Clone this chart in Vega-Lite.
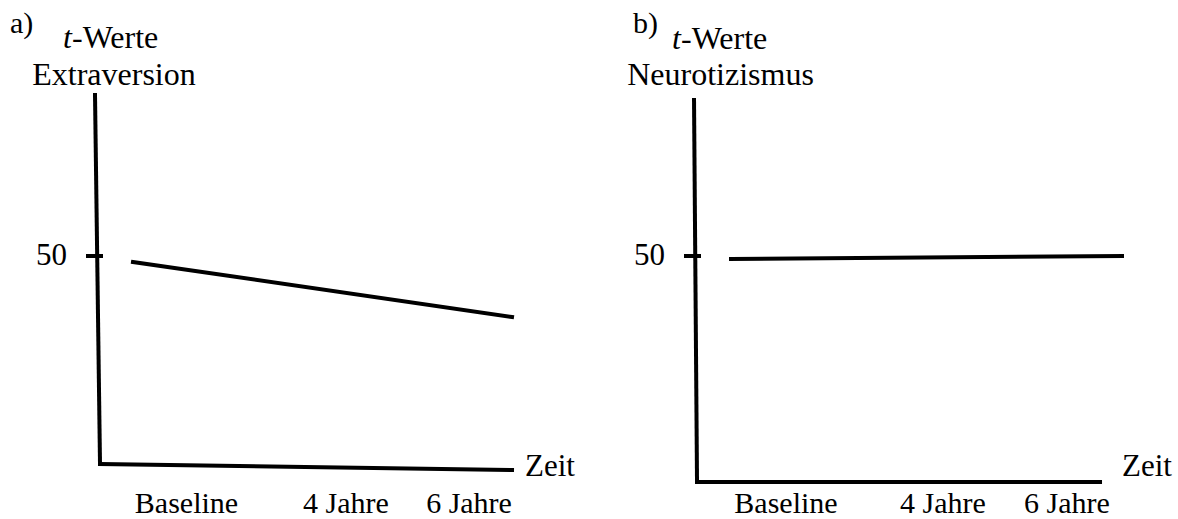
{
  "$schema": "https://vega.github.io/schema/vega-lite/v6.json",
  "width": 1178,
  "height": 519,
  "padding": 0,
  "autosize": {"type": "none"},
  "background": "white",
  "config": {"view": {"stroke": null}},
  "datasets": {
    "segs": [
      {"part": "a y-axis", "x": 16.13, "y": 80.61, "x2": 16.98, "y2": 10.46},
      {"part": "a tick 50", "x": 14.94, "y": 50, "x2": 17.15, "y2": 50},
      {"part": "a x-axis", "x": 16.98, "y": 10.46, "x2": 86.93, "y2": 9.32},
      {"part": "a Extraversion", "x": 22.58, "y": 48.86, "x2": 86.93, "y2": 38.4},
      {"part": "b y-axis", "x": 117.83, "y": 79.66, "x2": 118.34, "y2": 7.03},
      {"part": "b tick 50", "x": 116.47, "y": 50, "x2": 118.68, "y2": 50},
      {"part": "b x-axis", "x": 118.34, "y": 7.03, "x2": 186.76, "y2": 7.03},
      {"part": "b Neurotizismus", "x": 124.11, "y": 49.43, "x2": 190.49, "y2": 50.0}
    ],
    "headers": [
      {"label": "Extraversion", "x": 19.35, "y": 82.51},
      {"label": "Neurotizismus", "x": 122.33, "y": 82.51}
    ],
    "header_left": [
      {"label": "-Werte", "x": 12.22, "y": 89.55},
      {"label": "-Werte", "x": 115.62, "y": 89.36}
    ],
    "italic_texts": [
      {"label": "t", "x": 10.7, "y": 89.55},
      {"label": "t", "x": 114.09, "y": 89.36}
    ],
    "panel_tags": [
      {"label": "a)", "x": 1.7, "y": 92.4},
      {"label": "b)", "x": 107.47, "y": 92.4}
    ],
    "x_labels": [
      {"label": "Baseline", "x": 31.66, "y": 1.14},
      {"label": "4 Jahre", "x": 58.74, "y": 1.14},
      {"label": "6 Jahre", "x": 79.63, "y": 1.14},
      {"label": "Baseline", "x": 133.45, "y": 1.14},
      {"label": "4 Jahre", "x": 160.1, "y": 1.14},
      {"label": "6 Jahre", "x": 181.15, "y": 1.14}
    ],
    "axis_names": [
      {"label": "Zeit", "x": 89.13, "y": 8.18},
      {"label": "Zeit", "x": 190.49, "y": 8.18}
    ],
    "y_labels": [
      {"label": "50", "x": 11.38, "y": 48.29},
      {"label": "50", "x": 112.9, "y": 48.29}
    ]
  },
  "encoding": {
    "x": {"field": "x", "type": "quantitative", "scale": {"domain": [0, 200], "nice": false, "zero": false}, "axis": null},
    "y": {"field": "y", "type": "quantitative", "scale": {"domain": [0, 98.67], "nice": false, "zero": false}, "axis": null}
  },
  "layer": [
    {
      "data": {"name": "segs"},
      "mark": {"type": "rule", "strokeWidth": 4, "color": "black", "strokeCap": "square"},
      "encoding": {
        "x2": {"field": "x2"},
        "y2": {"field": "y2"}
      }
    },
    {
      "data": {"name": "headers"},
      "mark": {"type": "text", "font": "Liberation Serif", "fontSize": 32, "align": "center", "baseline": "alphabetic", "color": "black"},
      "encoding": {"text": {"field": "label"}}
    },
    {
      "data": {"name": "header_left"},
      "mark": {"type": "text", "font": "Liberation Serif", "fontSize": 32, "align": "left", "baseline": "alphabetic", "color": "black"},
      "encoding": {"text": {"field": "label"}}
    },
    {
      "data": {"name": "italic_texts"},
      "mark": {"type": "text", "font": "Liberation Serif", "fontStyle": "italic", "fontSize": 32, "align": "left", "baseline": "alphabetic", "color": "black"},
      "encoding": {"text": {"field": "label"}}
    },
    {
      "data": {"name": "panel_tags"},
      "mark": {"type": "text", "font": "Liberation Serif", "fontSize": 30, "align": "left", "baseline": "alphabetic", "color": "black"},
      "encoding": {"text": {"field": "label"}}
    },
    {
      "data": {"name": "x_labels"},
      "mark": {"type": "text", "font": "Liberation Serif", "fontSize": 30, "align": "center", "baseline": "alphabetic", "color": "black"},
      "encoding": {"text": {"field": "label"}}
    },
    {
      "data": {"name": "axis_names"},
      "mark": {"type": "text", "font": "Liberation Serif", "fontSize": 31, "align": "left", "baseline": "alphabetic", "color": "black"},
      "encoding": {"text": {"field": "label"}}
    },
    {
      "data": {"name": "y_labels"},
      "mark": {"type": "text", "font": "Liberation Serif", "fontSize": 31, "align": "right", "baseline": "alphabetic", "color": "black"},
      "encoding": {"text": {"field": "label"}}
    }
  ]
}
